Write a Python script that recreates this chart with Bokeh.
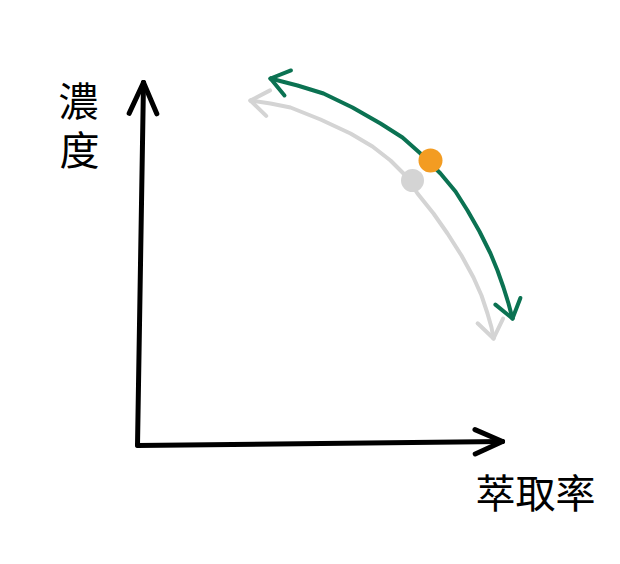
import numpy as np
from bokeh.plotting import figure
from bokeh.models import Range1d
from bokeh.core.properties import value
from bokeh.embed import file_html
from bokeh.resources import INLINE

# axis endpoints (hand-drawn, origin at 0,0)
y_axis_x = [0, 6]
y_axis_y = [0, 363]
x_axis_x = [0, 365]
x_axis_y = [0, 4]

# green curve (current brew)
green_x = [133, 160, 186, 215, 243, 265, 283, 303, 318, 330, 342, 353, 360, 366, 371, 375]
green_y = [367, 360, 352, 338, 322, 308, 292, 272, 254, 235, 214, 192, 175, 158, 142, 127]
# gray curve (reference)
gray_x = [113, 133, 153, 183, 213, 235, 253, 268, 280, 296, 310, 324, 336, 344, 350, 354, 356]
gray_y = [345, 342, 338, 326, 312, 299, 285, 270, 252, 232, 212, 190, 168, 150, 132, 118, 107]

orange_pt = (293, 285)
gray_pt = (275, 265)

y_label = ["濃", "度"]
x_label = "萃取率"

GREEN = "#0b7252"
GRAY = "#d4d4d4"
ORANGE = "#f39c22"

p = figure(width=604, height=548, output_backend="svg", toolbar_location=None,
           x_range=Range1d(-137, 467), y_range=Range1d(-103, 445),
           min_border=0)
p.axis.visible = False
p.grid.visible = False
p.outline_line_color = None
p.background_fill_color = "white"


def arrow_wings(xs, ys, end, length=22, ang=38):
    if end == "end":
        tx, ty = xs[-1], ys[-1]
        px, py = xs[-2], ys[-2]
    else:
        tx, ty = xs[0], ys[0]
        px, py = xs[1], ys[1]
    d = np.arctan2(py - ty, px - tx)
    wx, wy = [], []
    for s in (1, -1):
        a = d + s * np.radians(ang)
        wx.append([tx + length * np.cos(a), tx])
        wy.append([ty + length * np.sin(a), ty])
    return wx, wy


# axes
p.line(y_axis_x, y_axis_y, line_color="black", line_width=5, line_cap="round")
p.line(x_axis_x, x_axis_y, line_color="black", line_width=5, line_cap="round")
wx, wy = arrow_wings(y_axis_x, y_axis_y, "end", length=34, ang=24)
p.multi_line(wx, wy, line_color="black", line_width=5, line_cap="round")
wx, wy = arrow_wings(x_axis_x, x_axis_y, "end", length=30, ang=24)
p.multi_line(wx, wy, line_color="black", line_width=5, line_cap="round")

# curves
for xs, ys, c in ((gray_x, gray_y, GRAY), (green_x, green_y, GREEN)):
    p.line(xs, ys, line_color=c, line_width=4, line_cap="round", line_join="round")
    for e in ("start", "end"):
        wx, wy = arrow_wings(xs, ys, e, length=22, ang=36)
        p.multi_line(wx, wy, line_color=c, line_width=4, line_cap="round", line_join="round")

p.scatter([gray_pt[0]], [gray_pt[1]], size=23, fill_color=GRAY, line_color=None)
p.scatter([orange_pt[0]], [orange_pt[1]], size=24, fill_color=ORANGE, line_color=None)

font = value("Noto Sans CJK TC")
p.text([-59, -58], [347, 298], text=y_label, text_font=font, text_font_size="40px",
       text_align="center", text_baseline="middle", text_color="black")
p.text([398], [-45], text=[x_label], text_font=font, text_font_size="40px",
       text_align="center", text_baseline="middle", text_color="black")

open("out.html", "w").write(file_html(p, INLINE))
